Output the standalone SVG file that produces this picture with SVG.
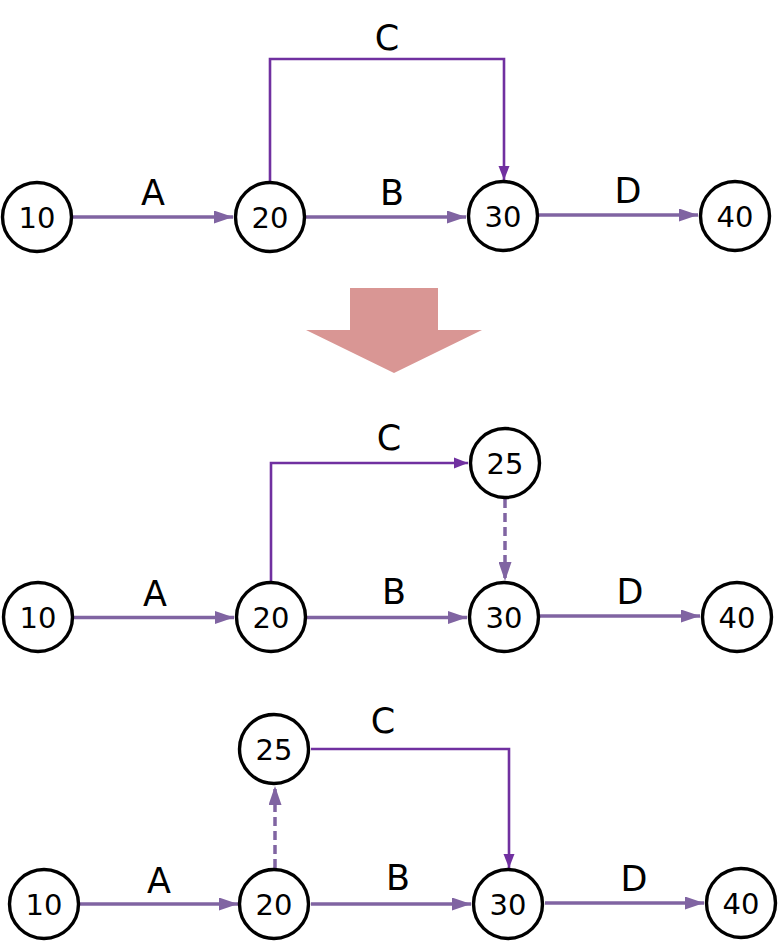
<svg xmlns="http://www.w3.org/2000/svg" width="779" height="942" viewBox="0 0 779 942">
<style>
.n circle{fill:#fff;stroke:#000;stroke-width:3.4}
.n text{font-family:"DejaVu Sans",Verdana,sans-serif;font-size:29px;text-anchor:middle;fill:#000}
.lbl{font-family:"DejaVu Sans",Verdana,sans-serif;font-size:35px;text-anchor:middle;fill:#000}
.e{fill:none;stroke:#8064A2;stroke-width:3.5}
.c{fill:none;stroke:#7030A0;stroke-width:2.6}
.d{fill:none;stroke:#8064A2;stroke-width:3.5;stroke-dasharray:9 5}
</style>
<defs>
<marker id="ah" markerUnits="userSpaceOnUse" markerWidth="19" markerHeight="13" refX="19" refY="6.5" orient="auto">
<path d="M0,0 L19,6.5 L0,13 z" fill="#8064A2"/>
</marker>
<marker id="ahc" markerUnits="userSpaceOnUse" markerWidth="14" markerHeight="12" refX="14" refY="6" orient="auto">
<path d="M0,0.5 L14,6 L0,11.5 z" fill="#7030A0"/>
</marker>
</defs>
<rect width="779" height="942" fill="#fff"/>
<polygon points="350,288 438,288 438,330 482,330 394,373 306,330 350,330" fill="#D99694"/>
<g id="connectors">
<path class="e" d="M73,217 H233" marker-end="url(#ah)"/>
<path class="e" d="M306,217 H466" marker-end="url(#ah)"/>
<path class="e" d="M539,215 H698" marker-end="url(#ah)"/>
<path class="c" d="M270,181 V59 H504 V180" marker-end="url(#ahc)"/>
<path class="e" d="M74,617.5 H234" marker-end="url(#ah)"/>
<path class="e" d="M307,617.5 H467" marker-end="url(#ah)"/>
<path class="e" d="M540,616 H700" marker-end="url(#ah)"/>
<path class="c" d="M271,581 V463 H468" marker-end="url(#ahc)"/>
<path class="d" d="M505,499 V581" marker-end="url(#ah)"/>
<path class="e" d="M80,904 H238" marker-end="url(#ah)"/>
<path class="e" d="M311,904 H471" marker-end="url(#ah)"/>
<path class="e" d="M545,903 H704" marker-end="url(#ah)"/>
<path class="c" d="M311,749 H509 V868" marker-end="url(#ahc)"/>
<path class="d" d="M275,868 V786" marker-end="url(#ah)"/>
<text class="lbl" x="387" y="50">C</text>
<text class="lbl" x="153" y="205">A</text>
<text class="lbl" x="392" y="205">B</text>
<text class="lbl" x="628" y="203">D</text>
<text class="lbl" x="389" y="450">C</text>
<text class="lbl" x="155" y="606">A</text>
<text class="lbl" x="394" y="604">B</text>
<text class="lbl" x="630" y="604">D</text>
<text class="lbl" x="383" y="733">C</text>
<text class="lbl" x="159" y="893">A</text>
<text class="lbl" x="398" y="890">B</text>
<text class="lbl" x="634" y="891">D</text>
</g>
<g id="t10" class="n"><circle cx="37" cy="217" r="34.5"/><text x="37" y="227.5">10</text></g>
<g id="t20" class="n"><circle cx="270" cy="217" r="34.5"/><text x="270" y="227.5">20</text></g>
<g id="t30" class="n"><circle cx="503" cy="216" r="34.5"/><text x="503" y="226.5">30</text></g>
<g id="t40" class="n"><circle cx="735" cy="216" r="34.5"/><text x="735" y="226.5">40</text></g>
<g id="m10" class="n"><circle cx="38" cy="617" r="34.5"/><text x="38" y="627.5">10</text></g>
<g id="m20" class="n"><circle cx="271" cy="617" r="34.5"/><text x="271" y="627.5">20</text></g>
<g id="m30" class="n"><circle cx="504" cy="617" r="34.5"/><text x="504" y="627.5">30</text></g>
<g id="m40" class="n"><circle cx="737" cy="617" r="34.5"/><text x="737" y="627.5">40</text></g>
<g id="m25" class="n"><circle cx="505" cy="463" r="34.5"/><text x="505" y="473.5">25</text></g>
<g id="b10" class="n"><circle cx="44" cy="904" r="34.5"/><text x="44" y="914.5">10</text></g>
<g id="b20" class="n"><circle cx="274" cy="904" r="34.5"/><text x="274" y="914.5">20</text></g>
<g id="b30" class="n"><circle cx="508" cy="904" r="34.5"/><text x="508" y="914.5">30</text></g>
<g id="b40" class="n"><circle cx="741" cy="903" r="34.5"/><text x="741" y="913.5">40</text></g>
<g id="b25" class="n"><circle cx="274" cy="749" r="34.5"/><text x="274" y="759.5">25</text></g>
</svg>
